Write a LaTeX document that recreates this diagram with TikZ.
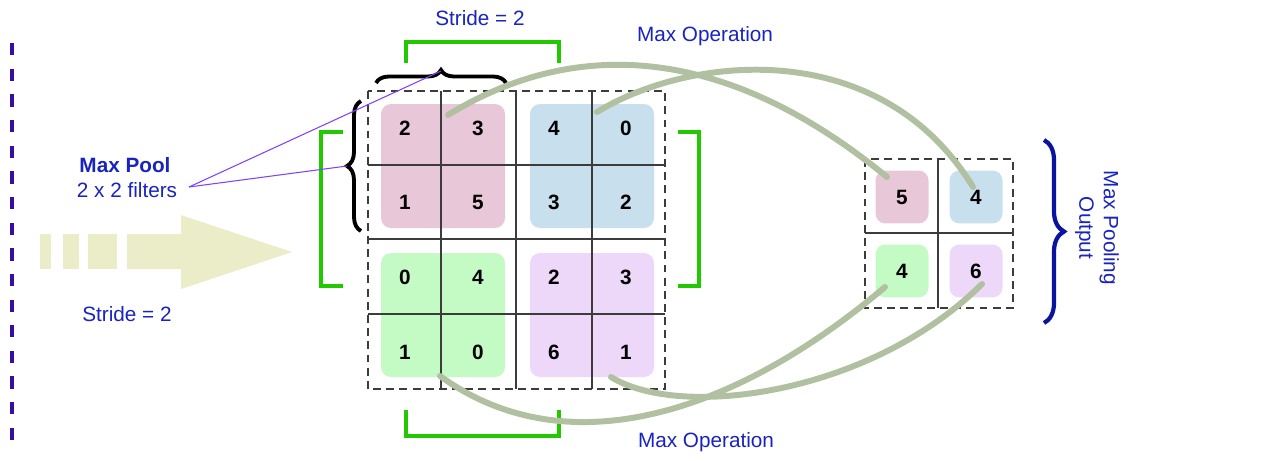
\documentclass[tikz,border=0pt]{standalone}
\usepackage{fontspec}
\setmainfont{Liberation Sans}
\usetikzlibrary{decorations.pathreplacing}
\definecolor{txtblue}{RGB}{25,35,190}
\definecolor{brgreen}{RGB}{34,200,0}
\definecolor{sagec}{RGB}{176,192,160}
\definecolor{cpink}{RGB}{232,200,216}
\definecolor{cblue}{RGB}{200,224,238}
\definecolor{cgreen}{RGB}{196,250,196}
\definecolor{cpurple}{RGB}{238,216,250}
\definecolor{arrowc}{RGB}{235,237,200}
\definecolor{indigoc}{RGB}{55,15,160}
\definecolor{violetc}{RGB}{128,64,255}
\definecolor{bracec}{RGB}{10,20,160}
\definecolor{gridc}{RGB}{60,60,60}
\tikzset{
  lbl/.style={text=txtblue, font=\fontsize{11.8}{14}\selectfont, inner sep=0pt, align=center},
  num/.style={text=black, font=\fontsize{11.8}{14}\selectfont\bfseries, inner sep=0pt},
  groupbox/.style={rounded corners=0.2cm},
  outcell/.style={num, minimum size=1.06cm, rounded corners=0.2cm},
  gbrk/.style={draw=brgreen, line width=1.8pt},
  dashbox/.style={draw=gridc, line width=0.7pt, dash pattern=on 4.5pt off 3pt},
  gridline/.style={draw=gridc, line width=0.6pt},
  sage/.style={draw=sagec, line width=3.4pt, line cap=round},
  pointer/.style={draw=violetc, line width=0.6pt},
  blackbrace/.style={draw=black, line width=2.2pt, decorate},
}
\begin{document}
\begin{tikzpicture}[x=0.02cm,y=-0.02cm]
\useasboundingbox (0,0) rectangle (1278,460);

% left dashed separator
\draw[indigoc, line width=2pt, dash pattern=on 7pt off 7.6pt] (12,43) -- (12,453);

% big arrow
\fill[arrowc] (40,234) rectangle (51,269);
\fill[arrowc] (63,234) rectangle (79,269);
\fill[arrowc] (88,234) rectangle (117,269);
\fill[arrowc] (127,234) -- (181,234) -- (181,215) -- (292,252) -- (181,289) -- (181,269) -- (127,269) -- cycle;

% left texts
\node[lbl, font=\fontsize{11.8}{14}\selectfont\bfseries] (maxpool) at (125,165) {Max Pool};
\node[lbl] (filters) at (127,190) {2 x 2 filters};
\node[lbl] (strideL) at (127,314) {Stride = 2};
\node[lbl] (strideT) at (480,18) {Stride = 2};
\node[lbl] (maxopT) at (705,36) {Max Operation};
\node[lbl] (maxopB) at (706,442) {Max Operation};
\node[lbl, rotate=-90] (poolout) at (1097,228) {Max Pooling\\Output};

% colored groups
\fill[cpink, groupbox] (381,104) rectangle (505,228);
\fill[cblue, groupbox] (530,104) rectangle (654,228);
\fill[cgreen, groupbox] (381,253) rectangle (505,377);
\fill[cpurple, groupbox] (530,253) rectangle (654,377);

% grid
\foreach \x in {441,516,592} \draw[gridline] (\x,91) -- (\x,389);
\foreach \y in {165,239,314} \draw[gridline] (368,\y) -- (665,\y);
\draw[dashbox] (368,91) rectangle (665,389);

% numbers
\node[num] (a11) at (405,128) {2};
\node[num] (a12) at (478,128) {3};
\node[num] (a13) at (554,128) {4};
\node[num] (a14) at (626,128) {0};
\node[num] (a21) at (405,202) {1};
\node[num] (a22) at (478,202) {5};
\node[num] (a23) at (554,202) {3};
\node[num] (a24) at (626,202) {2};
\node[num] (a31) at (405,277) {0};
\node[num] (a32) at (478,277) {4};
\node[num] (a33) at (554,277) {2};
\node[num] (a34) at (626,277) {3};
\node[num] (a41) at (405,352) {1};
\node[num] (a42) at (478,352) {0};
\node[num] (a43) at (554,352) {6};
\node[num] (a44) at (626,352) {1};

% green brackets
\draw[gbrk] (406,63) -- (406,42) -- (559,42) -- (559,63);
\draw[gbrk] (406,410) -- (406,436) -- (559,436) -- (559,410);
\draw[gbrk] (678,132) -- (699,132) -- (699,286) -- (678,286);
\draw[gbrk] (343,132) -- (321,132) -- (321,286) -- (343,286);

% black braces
\draw[blackbrace, decoration={brace, amplitude=0.26cm}] (376,83) -- (506,83);
\draw[blackbrace, decoration={brace, amplitude=0.28cm}] (361,231) -- (361,101);
\coordinate (tipT) at (441,71);
\coordinate (tipL) at (347,166);

% output
\node[outcell, fill=cpink] (o1) at (902,197) {5};
\node[outcell, fill=cblue] (o2) at (976,197) {4};
\node[outcell, fill=cgreen] (o3) at (902,271) {4};
\node[outcell, fill=cpurple] (o4) at (976,271) {6};
\draw[gridline] (938,159) -- (938,308);
\draw[gridline] (865,233) -- (1013,233);
\draw[dashbox] (865,159) rectangle (1013,308);
\draw[draw=bracec, line width=2.4pt, decorate, decoration={brace, amplitude=0.4cm}] (1044,140) -- (1044,323);

% pointers
\coordinate (fl) at (189,187);
\draw[pointer] (fl) -- (tipT);
\draw[pointer] (fl) -- (tipL);

% max-operation curves
\coordinate (s1) at (448,115);
\coordinate (e1) at (887,177);
\coordinate (s2) at (597,112);
\coordinate (e2) at (973,187);
\coordinate (s3) at (440,376);
\coordinate (e3) at (885,287);
\coordinate (s4) at (611,377);
\coordinate (e4) at (982,284);
\draw[sage] (s1) .. controls (570,40) and (720,40) .. (e1);
\draw[sage] (s2) .. controls (690,55) and (880,35) .. (e2);
\draw[sage] (s3) .. controls (570,470) and (740,410) .. (e3);
\draw[sage] (s4) .. controls (680,420) and (870,395) .. (e4);
\end{tikzpicture}
\end{document}
